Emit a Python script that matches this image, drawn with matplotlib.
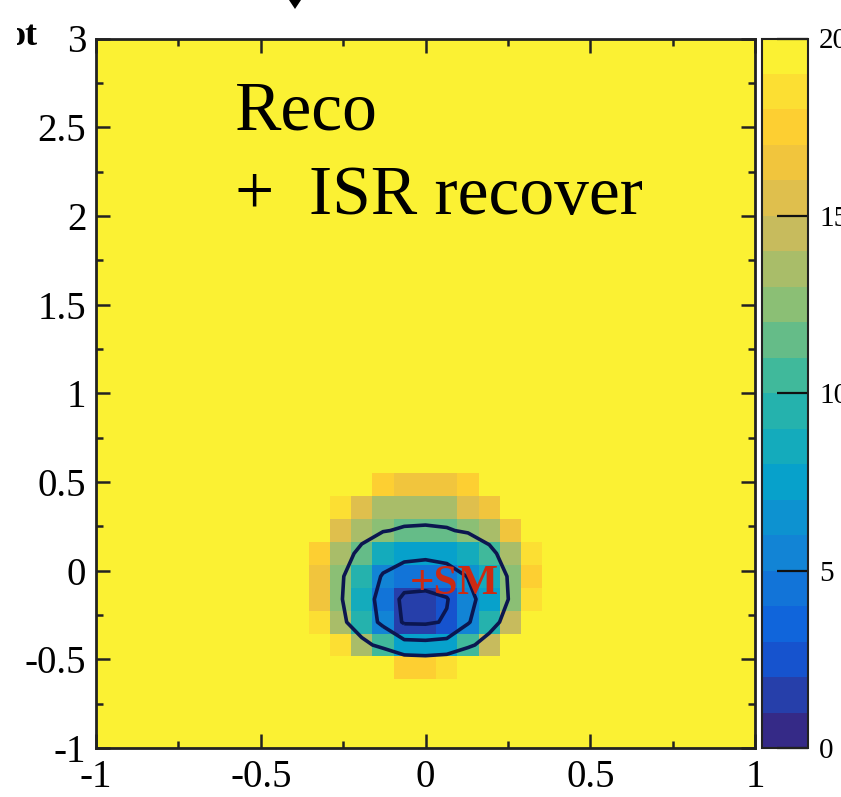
import numpy as np
import matplotlib
matplotlib.use("Agg")
import matplotlib.pyplot as plt
from matplotlib.colors import LinearSegmentedColormap, BoundaryNorm
from matplotlib.patches import Polygon, Rectangle

plt.rcParams['font.family'] = ['Liberation Serif', 'DejaVu Serif']
plt.rcParams['axes.unicode_minus'] = False

# ---------------- data ----------------
n_bins_x = 31
n_bins_y = 31
x_range = (-1.0, 1.0)
y_range = (-1.0, 3.0)
saturated = 20.0          # cells drawn in the top (yellow) colour

# visible (non-saturated) block: rows j = 11 .. 3 (top to bottom), columns i = 10 .. 20
row_index = [11, 10, 9, 8, 7, 6, 5, 4, 3]
col_start = 10
row_j11 = [20, 20, 19.2, 17.6, 16.8, 16.5, 16.8, 17.8, 20, 20, 20]
row_j10 = [20, 18.8, 15.5, 13.8, 13.3, 13.5, 13.3, 15.0, 16.5, 19.0, 20]
row_j9 = [19.0, 15.5, 13.0, 12.0, 11.5, 11.3, 11.6, 12.2, 13.5, 16.5, 20]
row_j8 = [17.5, 13.3, 11.0, 8.5, 7.3, 7.0, 7.5, 8.6, 10.8, 13.8, 18.0]
row_j7 = [16.0, 12.3, 9.3, 5.8, 4.3, 4.0, 4.5, 6.3, 8.5, 12.5, 17.5]
row_j6 = [16.5, 12.2, 8.2, 4.8, 1.5, 1.3, 2.1, 5.2, 7.8, 12.3, 18.0]
row_j5 = [18.5, 13.0, 9.0, 5.2, 1.9, 1.8, 2.6, 5.8, 9.8, 14.0, 20]
row_j4 = [20, 18.5, 13.2, 10.5, 7.5, 7.3, 7.6, 10.8, 14.0, 20, 20]
row_j3 = [20, 20, 20, 20, 17.5, 17.0, 18.0, 20, 20, 20, 20]
rows = [row_j11, row_j10, row_j9, row_j8, row_j7, row_j6, row_j5, row_j4, row_j3]

contour_levels = [2.3, 6.18, 11.83]
color_levels = list(range(0, 21))
x_ticks = [-1, -0.5, 0, 0.5, 1]
x_tick_labels = ["-1", "-0.5", "0", "0.5", "1"]
y_ticks = [-1, -0.5, 0, 0.5, 1, 1.5, 2, 2.5, 3]
y_tick_labels = ["-1", "-0.5", "0", "0.5", "1", "1.5", "2", "2.5", "3"]
cbar_ticks = [0, 5, 10, 15, 20]
cbar_tick_labels = ["0", "5", "10", "15", "20"]
text_line1 = "Reco"
text_line2 = "+  ISR recover"
sm_label = "+SM"
corner_label = "ot"

# ---------------- build histogram ----------------
Z = np.full((n_bins_y, n_bins_x), saturated)
for j, r in zip(row_index, rows):
    Z[j, col_start:col_start + len(r)] = r
x_edges = np.linspace(x_range[0], x_range[1], n_bins_x + 1)
y_edges = np.linspace(y_range[0], y_range[1], n_bins_y + 1)
x_cent = 0.5 * (x_edges[1:] + x_edges[:-1])
y_cent = 0.5 * (y_edges[1:] + y_edges[:-1])

# ROOT kBird-like palette (top end slightly warmer, as in the picture)
stops = [0.0, 0.125, 0.25, 0.375, 0.5, 0.625, 0.75, 0.875, 1.0]
red = [0.2082, 0.0592, 0.0780, 0.0232, 0.1802, 0.5301, 0.8186, 0.9956, 0.9840]
green = [0.1664, 0.3599, 0.5041, 0.6419, 0.7178, 0.7492, 0.7328, 0.7862, 0.9450]
blue = [0.5293, 0.8684, 0.8385, 0.7914, 0.6425, 0.4662, 0.3499, 0.1968, 0.2000]
cmap = LinearSegmentedColormap.from_list(
    "kBird", list(zip(stops, zip(red, green, blue))), N=256)
cmap.set_over(cmap(1.0))
norm = BoundaryNorm(color_levels, cmap.N, extend='neither', clip=False)

# ---------------- figure ----------------
W, H = 841, 797
fig = plt.figure(figsize=(W / 100, H / 100), dpi=100)

def fx(px):
    return px / W

def fy(py):
    return 1 - py / H

ax_l, ax_r, ax_t, ax_b = 96, 755, 38.5, 748
ax = fig.add_axes([fx(ax_l), fy(ax_b), fx(ax_r - ax_l), (ax_b - ax_t) / H])
mesh = ax.pcolormesh(x_edges, y_edges, Z, cmap=cmap, norm=norm, shading='flat')
ax.contour(x_cent, y_cent, Z, levels=contour_levels, colors='#0b1650',
           linewidths=2.6)
ax.set_xlim(*x_range)
ax.set_ylim(*y_range)
ax.set_xticks(x_ticks)
ax.set_xticklabels(x_tick_labels)
ax.set_yticks(y_ticks)
ax.set_yticklabels(y_tick_labels)
ax.set_xticks(np.arange(-1, 1.01, 0.25), minor=True)
ax.set_yticks(np.arange(-1, 3.01, 0.25), minor=True)
ax.tick_params(which='both', direction='in', top=True, right=True, width=1.8,
               color='#222222')
ax.tick_params(which='major', length=10, labelsize=28, pad=7)
ax.tick_params(which='minor', length=5)
ax.tick_params(axis='x', which='major', pad=8)
for s in ax.spines.values():
    s.set_linewidth(2.0)
    s.set_color('#222222')

# "+SM" marker label
fig.text(fx(410), fy(594), sm_label, color='#cc2a12', fontsize=31,
         fontweight='bold', ha='left', va='baseline')

# Legend-like text
fig.text(fx(235), fy(129), text_line1, fontsize=50, ha='left', va='baseline',
         color='black')
fig.text(fx(235), fy(214), text_line2, fontsize=50, ha='left', va='baseline',
         color='black')

# colour bar
cax = fig.add_axes([fx(762), fy(ax_b), fx(808 - 762), (ax_b - ax_t) / H])
cb = fig.colorbar(mesh, cax=cax, ticks=cbar_ticks, extend='neither')
cb.ax.set_yticklabels(cbar_tick_labels)
cb.ax.tick_params(direction='in', length=22, width=1.6, labelsize=21, pad=8,
                  color='#111111')
cb.ax.minorticks_off()
cb.outline.set_linewidth(1.5)
cb.outline.set_edgecolor('#222222')

# cut-off decorations at the top
fig.patches.append(Polygon([[fx(289), fy(0)], [fx(301), fy(0)], [fx(295), fy(9)]],
                           closed=True, transform=fig.transFigure,
                           facecolor='black', edgecolor='none', zorder=5))
fig.text(fx(8), fy(45), corner_label, fontsize=26, fontweight='bold',
         ha='left', va='baseline')
fig.patches.append(Rectangle((0, fy(60)), fx(17), 1 - fy(60),
                             transform=fig.transFigure, facecolor='white',
                             edgecolor='none', zorder=10))

fig.savefig("out.png", dpi=100)
